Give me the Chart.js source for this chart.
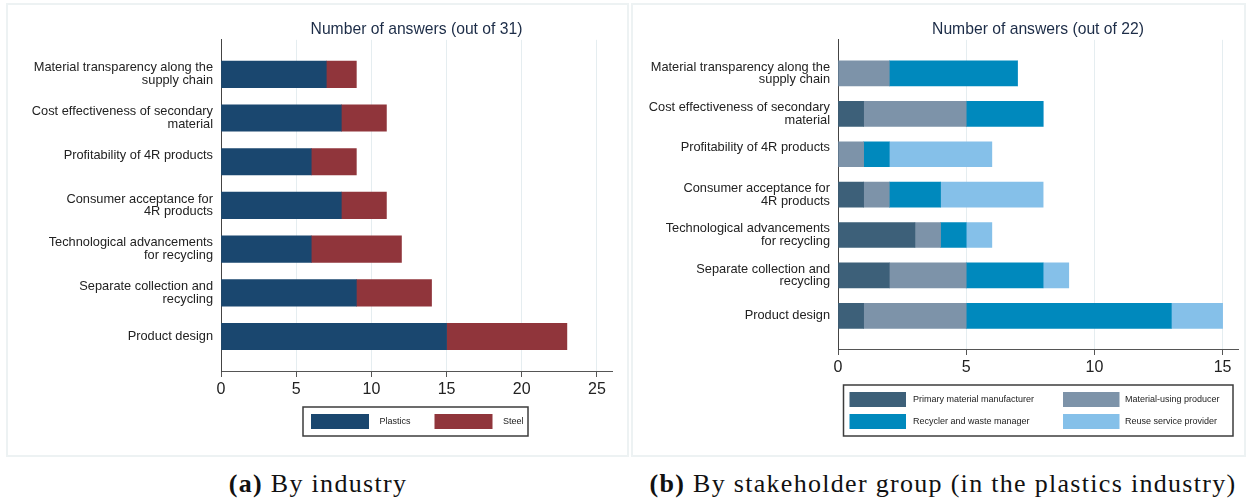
<!DOCTYPE html>
<html>
<head>
<meta charset="utf-8">
<script src="https://cdn.jsdelivr.net/npm/chart.js@4/dist/chart.umd.min.js"></script>
<style>
    body { margin: 0; width: 1250px; height: 503px; background: #fff; position: relative; overflow: hidden; }
    .panel { position: absolute; top: 3px; height: 450px; border: 2px solid #edf2f3; }
    canvas { position: absolute; top: 5px; }
    .caption { position: absolute; top: 471px; line-height: 26px; font-family: "Liberation Serif", "Times New Roman", serif;
               font-size: 26px; letter-spacing: 1.3px; color: #111; text-align: center; white-space: nowrap; }
</style>
</head>
<body>
<div class="panel" style="left:6px; width:619px;"></div>
<div class="panel" style="left:631px; width:611px;"></div>
<canvas id="industryChart" width="618" height="450" style="left:8px;"></canvas>
<canvas id="stakeholderChart" width="610" height="450" style="left:633px;"></canvas>
<div class="caption" style="left:7px; width:622px;"><b>(a)</b> By industry</div>
<div class="caption" style="left:640px; width:606px;"><b>(b)</b> By stakeholder group (in the plastics industry)</div>

<script>
// barriers, listed top to bottom
const barriers = [
    ["Material transparency along the", "supply chain"],
    ["Cost effectiveness of secondary", "material"],
    ["Profitability of 4R products", ""],
    ["Consumer acceptance for", "4R products"],
    ["Technological advancements", "for recycling"],
    ["Separate collection and", "recycling"],
    "Product design"
];

// (a) answers by industry
const plastics = [7, 8, 6, 8, 6, 9, 15];
const steel = [2, 3, 3, 3, 6, 5, 8];
const industryTicks = [0, 5, 10, 15, 20, 25];

// (b) answers by stakeholder group, plastics only
const primaryManufacturer = [0, 1, 0, 1, 3, 2, 1];
const materialUser = [2, 4, 1, 1, 1, 3, 4];
const recycler = [5, 3, 1, 2, 1, 3, 8];
const reuseProvider = [0, 0, 4, 4, 1, 1, 2];
const stakeholderTicks = [0, 5, 10, 15];

const sans = '"Liberation Sans", Arial, sans-serif';
Chart.defaults.font.family = sans;
Chart.defaults.animation = false;

function toPoints(values) {
    return values.map((v, i) => ({ x: v, y: i }));
}

// boxed legend drawn under the plot, items laid out in a grid
const boxLegend = {
    id: 'boxLegend',
    afterDraw(chart, args, opts) {
        const ctx = chart.ctx;
        ctx.save();
        ctx.strokeStyle = '#3c3c3c';
        ctx.lineWidth = 1.5;
        ctx.strokeRect(opts.x, opts.y, opts.w, opts.h);
        ctx.font = '9px ' + sans;
        ctx.textBaseline = 'middle';
        chart.data.datasets.forEach((ds, i) => {
            const col = i % opts.cols;
            const row = Math.floor(i / opts.cols);
            const cy = opts.y + opts.rowY[row];
            ctx.fillStyle = ds.backgroundColor;
            ctx.fillRect(opts.x + opts.colX[col], cy - opts.swH / 2, opts.swW, opts.swH);
            ctx.fillStyle = '#222';
            ctx.fillText(ds.label, opts.x + opts.textX[col], cy);
        });
        ctx.restore();
    }
};

function barOptions(title, yMin, yMax, xMax, xTicks, areaLeft, padRight, padBottom, legend) {
    return {
        responsive: false,
        indexAxis: 'y',
        layout: { padding: { left: 0, right: padRight, top: 0, bottom: padBottom } },
        plugins: {
            legend: { display: false },
            tooltip: { enabled: false },
            title: {
                display: true,
                text: title,
                fullSize: false,
                color: '#1c2c47',
                font: { size: 15.7, weight: 'normal' },
                padding: { top: 15, bottom: 1 }
            },
            boxLegend: legend
        },
        scales: {
            x: {
                type: 'linear',
                min: 0,
                max: xMax,
                stacked: true,
                afterBuildTicks: s => { s.ticks = xTicks.map(v => ({ value: v })); },
                afterFit: s => { s.height = 30; },
                grid: {
                    color: c => (c.tick && c.tick.value === 0) ? 'rgba(0,0,0,0)' : '#e5edf0',
                    tickColor: '#555',
                    tickLength: 6
                },
                border: { color: '#555', width: 1 },
                ticks: { color: '#222', font: { size: 16 }, padding: 3 }
            },
            y: {
                type: 'linear',
                reverse: true,
                offset: false,
                bounds: 'data',
                min: yMin,
                max: yMax,
                stacked: true,
                afterBuildTicks: s => { s.ticks = barriers.map((b, i) => ({ value: i })); },
                afterFit: s => { s.width = areaLeft; },
                grid: { display: false, drawTicks: false, offset: false },
                border: { color: '#444', width: 1 },
                ticks: {
                    autoSkip: false,
                    color: '#222',
                    padding: 8,
                    font: { size: 12.8, lineHeight: 1.0 },
                    callback: v => barriers[v]
                }
            }
        }
    };
}

const industryChart = new Chart(document.getElementById('industryChart'), {
    type: 'bar',
    data: {
        datasets: [
            { label: 'Plastics', data: toPoints(plastics), backgroundColor: '#1a476f' },
            { label: 'Steel', data: toPoints(steel), backgroundColor: '#90353b' }
        ]
    },
    options: {
        ...barOptions('Number of answers (out of 31)', -0.79, 6.79, 26, industryTicks, 213, 14, 54,
            { x: 295, y: 402, w: 225, h: 29, cols: 2, colX: [8, 131.5], textX: [76.5, 200], rowY: [14.5], swW: 58, swH: 15 }),
        datasets: { bar: { barThickness: 26.5, borderWidth: 0 } }
    },
    plugins: [boxLegend]
});

const stakeholderChart = new Chart(document.getElementById('stakeholderChart'), {
    type: 'bar',
    data: {
        datasets: [
            { label: 'Primary material manufacturer', data: toPoints(primaryManufacturer), backgroundColor: '#3d6079' },
            { label: 'Material-using producer', data: toPoints(materialUser), backgroundColor: '#7d93a9' },
            { label: 'Recycler and waste manager', data: toPoints(recycler), backgroundColor: '#0089bd' },
            { label: 'Reuse service provider', data: toPoints(reuseProvider), backgroundColor: '#85c0e9' }
        ]
    },
    options: {
        ...barOptions('Number of answers (out of 22)', -0.83, 6.82, 15.6, stakeholderTicks, 205, 5, 76,
            { x: 210.5, y: 380, w: 389.5, h: 51, cols: 2, colX: [6, 219.5], textX: [69.5, 281.5], rowY: [14.5, 36.5], swW: 56.5, swH: 15 }),
        datasets: { bar: { barThickness: 25, borderWidth: 0 } }
    },
    plugins: [boxLegend]
});
</script>
</body>
</html>
